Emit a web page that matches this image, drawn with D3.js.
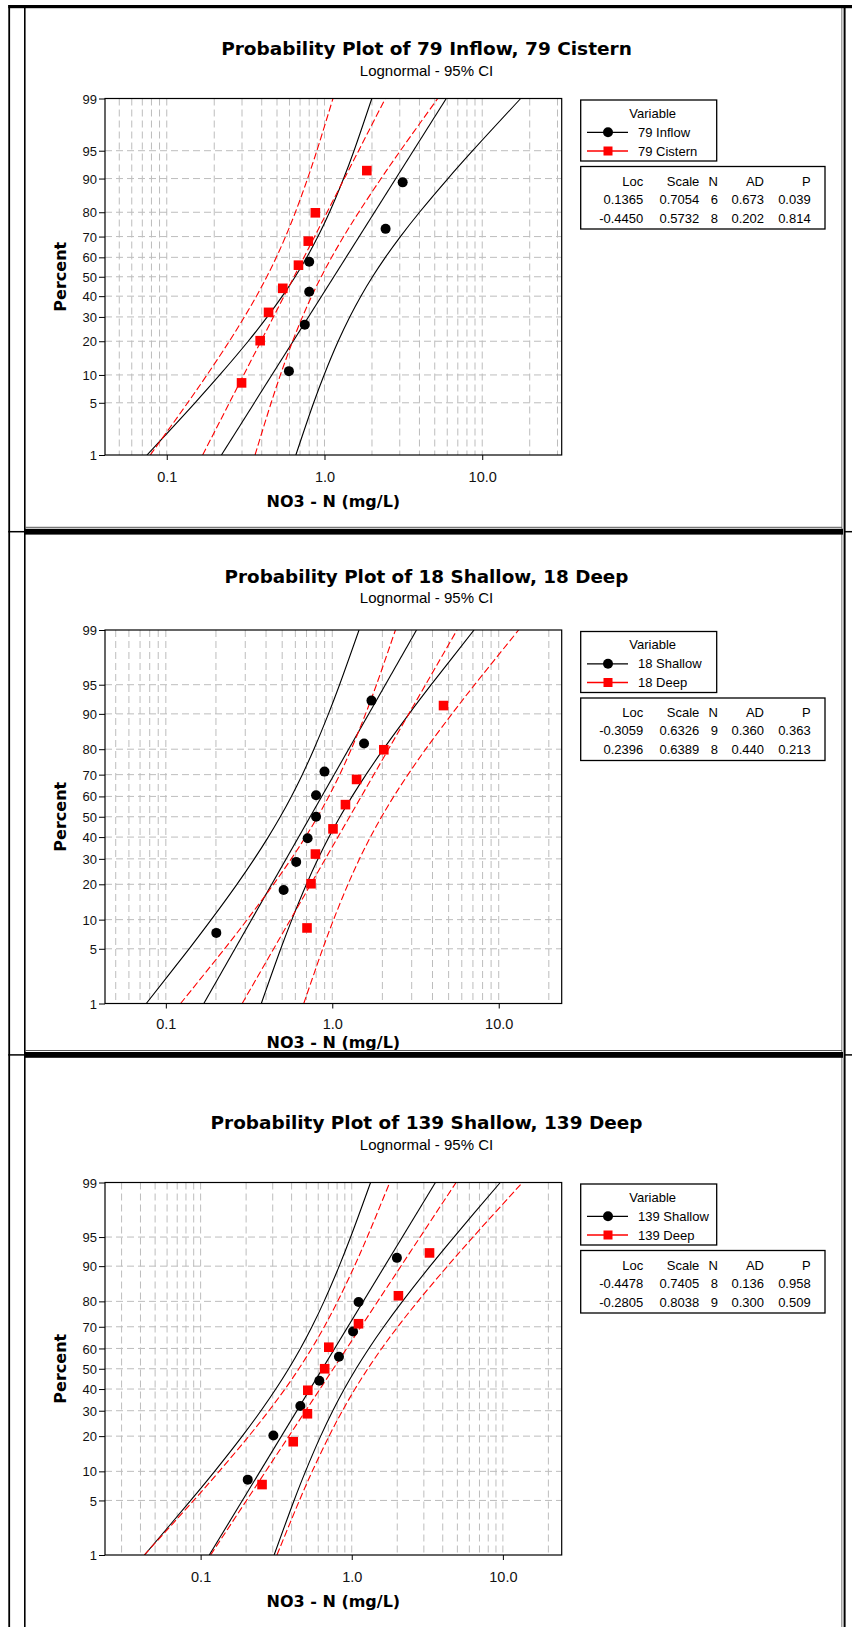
<!DOCTYPE html>
<html><head><meta charset="utf-8">
<script src="https://cdn.jsdelivr.net/npm/d3@7"></script>
<style>body{margin:0;background:#fff}svg{display:block}</style>
</head><body><svg id="c" width="852" height="1627"></svg>
<script>
// ---------------- DATA ----------------
const tickPct = [1, 5, 10, 20, 30, 40, 50, 60, 70, 80, 90, 95, 99];
const gridPct = [5, 10, 20, 30, 40, 50, 60, 70, 80, 90, 95];
const fitPct = [1, 99];
const xTickVals = [0.1, 1, 10];
const statHeader = ["Loc", "Scale", "N", "AD", "P"];

// Panel 1: 79 Inflow / 79 Cistern
const inflow79Pct = [10.9, 26.6, 42.2, 57.8, 73.4, 89.1];
const inflow79Val = [0.595, 0.75, 0.80, 0.80, 2.44, 3.13];
const inflow79Lo = [0.0749, 0.1511, 0.2167, 0.3283, 0.4337, 0.5403, 0.6519, 0.7724, 0.9089, 1.0761, 1.3216, 1.5388, 1.9955];
const inflow79Hi = [0.6584, 0.8538, 0.9942, 1.2210, 1.4457, 1.7010, 2.0156, 2.4317, 3.0295, 4.0027, 6.0633, 8.6937, 17.532];
const inflow79Fit = [0.2221, 5.915];
const cistern79Pct = [8.3, 20.2, 32.1, 44.0, 56.0, 67.9, 79.8, 91.7];
const cistern79Val = [0.298, 0.391, 0.442, 0.544, 0.684, 0.789, 0.875, 1.855];
const cistern79Lo = [0.0786, 0.1357, 0.1799, 0.2492, 0.3106, 0.3702, 0.4308, 0.4949, 0.5666, 0.6539, 0.7816, 0.8946, 1.1318];
const cistern79Hi = [0.3628, 0.4591, 0.5254, 0.6280, 0.7247, 0.8297, 0.9533, 1.1093, 1.3221, 1.6481, 2.2834, 3.0257, 5.2231];
const cistern79Fit = [0.1689, 2.4313];
const stats79 = [["0.1365", "0.7054", "6", "0.673", "0.039"], ["-0.4450", "0.5732", "8", "0.202", "0.814"]];

// Panel 2: 18 Shallow / 18 Deep
const shallow18Pct = [7.4, 18.1, 28.7, 39.4, 50.0, 60.6, 71.3, 81.9, 92.6];
const shallow18Val = [0.201, 0.510, 0.607, 0.711, 0.799, 0.799, 0.898, 1.552, 1.72];
const shallow18Lo = [0.0763, 0.1380, 0.1874, 0.2673, 0.3401, 0.4123, 0.4871, 0.5681, 0.6604, 0.7753, 0.9485, 1.1059, 1.4479];
const shallow18Hi = [0.3746, 0.4904, 0.5719, 0.6995, 0.8213, 0.9548, 1.1134, 1.3155, 1.5946, 2.0288, 2.8939, 3.9299, 7.1089];
const shallow18Fit = [0.1691, 3.2082];
const deep18Pct = [8.3, 20.2, 32.1, 44.0, 56.0, 67.9, 79.8, 91.7];
const deep18Val = [0.705, 0.745, 0.792, 1.01, 1.20, 1.40, 2.04, 4.66];
const deep18Lo = [0.1226, 0.2253, 0.3083, 0.4434, 0.5669, 0.6894, 0.8162, 0.9528, 1.1079, 1.2997, 1.5855, 1.8431, 2.3955];
const deep18Hi = [0.6741, 0.8762, 1.0184, 1.2425, 1.4575, 1.6948, 1.9785, 2.3425, 2.8486, 3.6419, 5.2377, 7.1681, 13.173];
const deep18Fit = [0.2875, 5.6174];
const stats18 = [["-0.3059", "0.6326", "9", "0.360", "0.363"], ["0.2396", "0.6389", "8", "0.440", "0.213"]];

// Panel 3: 139 Shallow / 139 Deep
const shallow139Pct = [8.3, 20.2, 32.1, 44.0, 56.0, 67.9, 79.8, 91.7];
const shallow139Val = [0.205, 0.303, 0.457, 0.61, 0.823, 1.02, 1.11, 1.99];
const shallow139Lo = [0.0425, 0.0860, 0.1238, 0.1886, 0.2507, 0.3145, 0.3825, 0.4577, 0.5451, 0.6559, 0.8259, 0.9833, 1.3324];
const shallow139Hi = [0.3065, 0.4153, 0.4944, 0.6226, 0.7491, 0.8922, 1.0675, 1.2983, 1.6287, 2.1652, 3.2993, 4.7463, 9.6085];
const shallow139Fit = [0.1141, 3.5781];
const deep139Pct = [7.4, 18.1, 28.7, 39.4, 50.0, 60.6, 71.3, 81.9, 92.6];
const deep139Val = [0.255, 0.410, 0.509, 0.512, 0.662, 0.705, 1.108, 2.036, 3.27];
const deep139Lo = [0.0424, 0.0900, 0.1327, 0.2085, 0.2831, 0.3615, 0.4468, 0.5431, 0.6577, 0.8064, 1.0418, 1.2664, 1.7833];
const deep139Hi = [0.3200, 0.4506, 0.5477, 0.7076, 0.8677, 1.0507, 1.2772, 1.5787, 2.0160, 2.7376, 4.2989, 6.3420, 13.468];
const deep139Fit = [0.1164, 4.9007];
const stats139 = [["-0.4478", "0.7405", "8", "0.136", "0.958"], ["-0.2805", "0.8038", "9", "0.300", "0.509"]];

const titles = ["Probability Plot of 79 Inflow, 79 Cistern", "Probability Plot of 18 Shallow, 18 Deep", "Probability Plot of 139 Shallow, 139 Deep"];
const subtitle = "Lognormal - 95% CI";
const xTitle = "NO3 - N (mg/L)";
const yTitle = "Percent";
const legendTitle = "Variable";

// ---------------- STYLE / LAYOUT ----------------
const FONT = "'Liberation Sans', Arial, sans-serif";
const BFONT = "'DejaVu Sans', Verdana, sans-serif";
const BLACK = "#000000", RED = "#ff0000";
const S1 = {color: BLACK, marker: "circle", dash: null};
const S2 = {color: RED, marker: "square", dash: "7,3"};

const panels = [
  {title: titles[0], stats: stats79, titleW: 411,
   L: {cellTop: 8, cellBottom: 527, title: 48.8, sub: 70.6, plotTop: 98.5, plotBottom: 455, tickDy: 22, titleDy: 46, xDom: [0.0406, 31.9]},
   series: [
     {name: "79 Inflow", pct: inflow79Pct, val: inflow79Val, lo: inflow79Lo, hi: inflow79Hi, fit: inflow79Fit, ...S1},
     {name: "79 Cistern", pct: cistern79Pct, val: cistern79Val, lo: cistern79Lo, hi: cistern79Hi, fit: cistern79Fit, ...S2}]},
  {title: titles[1], stats: stats18, titleW: 404,
   L: {cellTop: 535, cellBottom: 1050, title: 576, sub: 597.8, plotTop: 630, plotBottom: 1003.5, tickDy: 20, titleDy: 38.5, xDom: [0.0431, 23.9]},
   series: [
     {name: "18 Shallow", pct: shallow18Pct, val: shallow18Val, lo: shallow18Lo, hi: shallow18Hi, fit: shallow18Fit, ...S1},
     {name: "18 Deep", pct: deep18Pct, val: deep18Val, lo: deep18Lo, hi: deep18Hi, fit: deep18Fit, ...S2}]},
  {title: titles[2], stats: stats139, titleW: 432,
   L: {cellTop: 1057, cellBottom: 1627, title: 1122.5, sub: 1144.5, plotTop: 1182.5, plotBottom: 1555, tickDy: 22, titleDy: 46, xDom: [0.0233, 24.5]},
   series: [
     {name: "139 Shallow", pct: shallow139Pct, val: shallow139Val, lo: shallow139Lo, hi: shallow139Hi, fit: shallow139Fit, ...S1},
     {name: "139 Deep", pct: deep139Pct, val: deep139Val, lo: deep139Lo, hi: deep139Hi, fit: deep139Fit, ...S2}]}
];

const PX0 = 105, PX1 = 561.7;
const LEG = {x0: 580.7, x1: 716.7, top: 1.5, bottom: 62.5, varY: 14.8, itemY: [33.8, 52.5], lineX0: 587, lineX1: 628, markX: 608, textX: 638};
const STAT = {x0: 580.7, x1: 825, top: 68, bottom: 130.5, headY: 82.5, rowY: [100.8, 119.8], colR: [643.3, 699.3, 718, 764, 810.7]};

// inverse normal CDF (Acklam) for the probability axis
function qnorm(p) {
  const a = [-3.969683028665376e+01, 2.209460984245205e+02, -2.759285104469687e+02, 1.383577518672690e+02, -3.066479806614716e+01, 2.506628277459239e+00];
  const b = [-5.447609879822406e+01, 1.615858368580409e+02, -1.556989798598866e+02, 6.680131188771972e+01, -1.328068155288572e+01];
  const c = [-7.784894002430293e-03, -3.223964580411365e-01, -2.400758277161838e+00, -2.549732539343734e+00, 4.374664141464968e+00, 2.938163982698783e+00];
  const d = [7.784695709041462e-03, 3.224671290700398e-01, 2.445134137142996e+00, 3.754408661907416e+00];
  const pl = 0.02425;
  let q, r;
  if (p < pl) { q = Math.sqrt(-2 * Math.log(p)); return (((((c[0]*q+c[1])*q+c[2])*q+c[3])*q+c[4])*q+c[5]) / ((((d[0]*q+d[1])*q+d[2])*q+d[3])*q+1); }
  if (p <= 1 - pl) { q = p - 0.5; r = q*q; return (((((a[0]*r+a[1])*r+a[2])*r+a[3])*r+a[4])*r+a[5])*q / (((((b[0]*r+b[1])*r+b[2])*r+b[3])*r+b[4])*r+1); }
  q = Math.sqrt(-2 * Math.log(1 - p)); return -(((((c[0]*q+c[1])*q+c[2])*q+c[3])*q+c[4])*q+c[5]) / ((((d[0]*q+d[1])*q+d[2])*q+d[3])*q+1);
}
function probScale(lin) {
  const s = p => lin(qnorm(p / 100));
  s.copy = () => probScale(lin.copy());
  s.range = () => lin.range();
  s.domain = () => [1, 99];
  return s;
}

const svg = d3.select("#c");
svg.append("rect").attr("width", 852).attr("height", 1627).attr("fill", "#fff");
const defs = svg.append("defs");

panels.forEach((P, i) => {
  const L = P.L;
  defs.append("clipPath").attr("id", "cell" + i).append("rect")
    .attr("x", 25).attr("y", L.cellTop).attr("width", 817).attr("height", L.cellBottom - L.cellTop);
  defs.append("clipPath").attr("id", "plot" + i).append("rect")
    .attr("x", PX0).attr("y", L.plotTop).attr("width", PX1 - PX0).attr("height", L.plotBottom - L.plotTop);

  const g = svg.append("g").attr("clip-path", `url(#cell${i})`).attr("font-family", FONT);
  const x = d3.scaleLog().domain(L.xDom).range([PX0, PX1]);
  const zLin = d3.scaleLinear().domain([qnorm(0.01), qnorm(0.99)]).range([L.plotBottom, L.plotTop]);
  const y = probScale(zLin);

  // grid
  const gridX = [];
  for (let e = -2; e <= 1; e++) for (let m = 1; m <= 9; m++) {
    const v = m * Math.pow(10, e);
    if (v > L.xDom[0] && v < L.xDom[1]) gridX.push(v);
  }
  const grid = g.append("g").attr("stroke", "#bdbdbd").attr("stroke-width", 1).attr("stroke-dasharray", "7,4");
  grid.selectAll(".gx").data(gridX).join("line")
    .attr("x1", d => x(d)).attr("x2", d => x(d)).attr("y1", L.plotTop).attr("y2", L.plotBottom);
  grid.selectAll(".gy").data(gridPct).join("line")
    .attr("x1", PX0).attr("x2", PX1).attr("y1", d => y(d)).attr("y2", d => y(d));

  // lines
  const lp = g.append("g").attr("clip-path", `url(#plot${i})`).attr("fill", "none");
  const curve = d3.line().x(d => x(d[1])).y(d => y(d[0])).curve(d3.curveCatmullRom.alpha(0.5));
  const straight = d3.line().x(d => x(d[1])).y(d => y(d[0]));
  P.series.forEach(s => {
    const st = el => el.attr("stroke", s.color).attr("stroke-width", 1.1).attr("stroke-dasharray", s.dash);
    st(lp.append("path").attr("d", curve(d3.zip(tickPct, s.lo))));
    st(lp.append("path").attr("d", curve(d3.zip(tickPct, s.hi))));
    st(lp.append("path").attr("d", straight(d3.zip(fitPct, s.fit))));
  });
  // markers
  P.series.forEach(s => {
    const pts = d3.zip(s.pct, s.val);
    if (s.marker === "circle") {
      lp.selectAll(null).data(pts).join("circle").attr("cx", d => x(d[1])).attr("cy", d => y(d[0])).attr("r", 5).attr("fill", s.color);
    } else {
      lp.selectAll(null).data(pts).join("rect").attr("x", d => x(d[1]) - 4.8).attr("y", d => y(d[0]) - 4.8)
        .attr("width", 9.6).attr("height", 9.6).attr("fill", s.color);
    }
  });

  // border
  g.append("rect").attr("x", PX0).attr("y", L.plotTop).attr("width", PX1 - PX0).attr("height", L.plotBottom - L.plotTop)
    .attr("fill", "none").attr("stroke", "#000").attr("stroke-width", 1.2);

  // axes
  const ya = g.append("g").attr("transform", `translate(${PX0},0)`)
    .call(d3.axisLeft(y).tickValues(tickPct).tickFormat(d => String(d)).tickSize(6));
  const xa = g.append("g").attr("transform", `translate(0,${L.plotBottom})`)
    .call(d3.axisBottom(x).tickValues(xTickVals).tickFormat(d3.format(".1f")).tickSize(5));
  [ya, xa].forEach(a => {
    a.select(".domain").remove();
    a.attr("font-family", FONT);
    a.selectAll("line").attr("stroke", "#000");
    a.selectAll("text").attr("fill", "#111");
  });
  ya.attr("font-size", 13);
  xa.attr("font-size", 14.5);
  ya.selectAll("text").attr("x", -8).attr("dy", "0.35em");
  xa.selectAll("text").attr("y", 0).attr("dy", 0).attr("transform", `translate(0,${L.tickDy})`).attr("dominant-baseline", "central");

  // titles
  const t = g.append("text").attr("x", 426.5).attr("y", L.title).attr("text-anchor", "middle").attr("font-family", BFONT)
    .attr("dominant-baseline", "central").attr("font-weight", "bold").attr("font-size", 18).text(P.title);
  const w = t.node().getComputedTextLength();
  t.attr("font-size", 18 * P.titleW / w);
  g.append("text").attr("x", 426.5).attr("y", L.sub).attr("text-anchor", "middle")
    .attr("dominant-baseline", "central").attr("font-size", 15).text(subtitle);
  g.append("text").attr("x", (PX0 + PX1) / 2).attr("y", L.plotBottom + L.titleDy).attr("text-anchor", "middle").attr("font-family", BFONT)
    .attr("dominant-baseline", "central").attr("font-weight", "bold").attr("font-size", 16).text(xTitle);
  g.append("text").attr("transform", `translate(60.5,${(L.plotTop + L.plotBottom) / 2}) rotate(-90)`).attr("font-family", BFONT)
    .attr("text-anchor", "middle").attr("dominant-baseline", "central").attr("font-weight", "bold").attr("font-size", 16).text(yTitle);

  // legend
  const T = L.plotTop;
  g.append("rect").attr("x", LEG.x0).attr("y", T + LEG.top).attr("width", LEG.x1 - LEG.x0).attr("height", LEG.bottom - LEG.top)
    .attr("fill", "#fff").attr("stroke", "#000").attr("stroke-width", 1.3);
  g.append("text").attr("x", (LEG.x0 + LEG.x1) / 2 + 4).attr("y", T + LEG.varY).attr("text-anchor", "middle")
    .attr("dominant-baseline", "central").attr("font-size", 13).text(legendTitle);
  P.series.forEach((s, k) => {
    const yy = T + LEG.itemY[k];
    g.append("line").attr("x1", LEG.lineX0).attr("x2", LEG.lineX1).attr("y1", yy).attr("y2", yy)
      .attr("stroke", s.color).attr("stroke-width", 1.3);
    if (s.marker === "circle") g.append("circle").attr("cx", LEG.markX).attr("cy", yy).attr("r", 5).attr("fill", s.color);
    else g.append("rect").attr("x", LEG.markX - 4.5).attr("y", yy - 4.5).attr("width", 9).attr("height", 9).attr("fill", s.color);
    g.append("text").attr("x", LEG.textX).attr("y", yy).attr("dominant-baseline", "central").attr("font-size", 13).text(s.name);
  });
  // stats table
  g.append("rect").attr("x", STAT.x0).attr("y", T + STAT.top).attr("width", STAT.x1 - STAT.x0).attr("height", STAT.bottom - STAT.top)
    .attr("fill", "#fff").attr("stroke", "#000").attr("stroke-width", 1.3);
  const rows = [statHeader, ...P.stats];
  rows.forEach((r, ri) => {
    const yy = T + (ri === 0 ? STAT.headY : STAT.rowY[ri - 1]);
    r.forEach((v, ci) => {
      g.append("text").attr("x", STAT.colR[ci]).attr("y", yy).attr("text-anchor", "end")
        .attr("dominant-baseline", "central").attr("font-size", 13).text(v);
    });
  });
});

// ---------------- FRAME ----------------
const fr = svg.append("g");
fr.append("line").attr("x1", 9.2).attr("x2", 9.2).attr("y1", 5).attr("y2", 1627).attr("stroke", "#000").attr("stroke-width", 1.8);
fr.append("line").attr("x1", 24.8).attr("x2", 24.8).attr("y1", 5).attr("y2", 1627).attr("stroke", "#000").attr("stroke-width", 1.6);
fr.append("line").attr("x1", 841.8).attr("x2", 841.8).attr("y1", 8).attr("y2", 1627).attr("stroke", "#8a8a8a").attr("stroke-width", 1.2);
fr.append("line").attr("x1", 844.6).attr("x2", 844.6).attr("y1", 5).attr("y2", 1627).attr("stroke", "#000").attr("stroke-width", 2);
fr.append("rect").attr("x", 8.3).attr("y", 5).attr("width", 843.7).attr("height", 3.2).attr("fill", "#000");
[527.3, 1050.5].forEach(s => {
  fr.append("line").attr("x1", 25).attr("x2", 842).attr("y1", s).attr("y2", s).attr("stroke", "#555").attr("stroke-width", 1);
  fr.append("rect").attr("x", 25).attr("y", s + 1.5).attr("width", 818).attr("height", 5.8).attr("fill", "#000");
  fr.append("line").attr("x1", 8.3).attr("x2", 25).attr("y1", s + 4.4).attr("y2", s + 4.4).attr("stroke", "#000").attr("stroke-width", 1.5);
  fr.append("line").attr("x1", 844).attr("x2", 852).attr("y1", s + 4.4).attr("y2", s + 4.4).attr("stroke", "#000").attr("stroke-width", 1.5);
});
</script></body></html>
